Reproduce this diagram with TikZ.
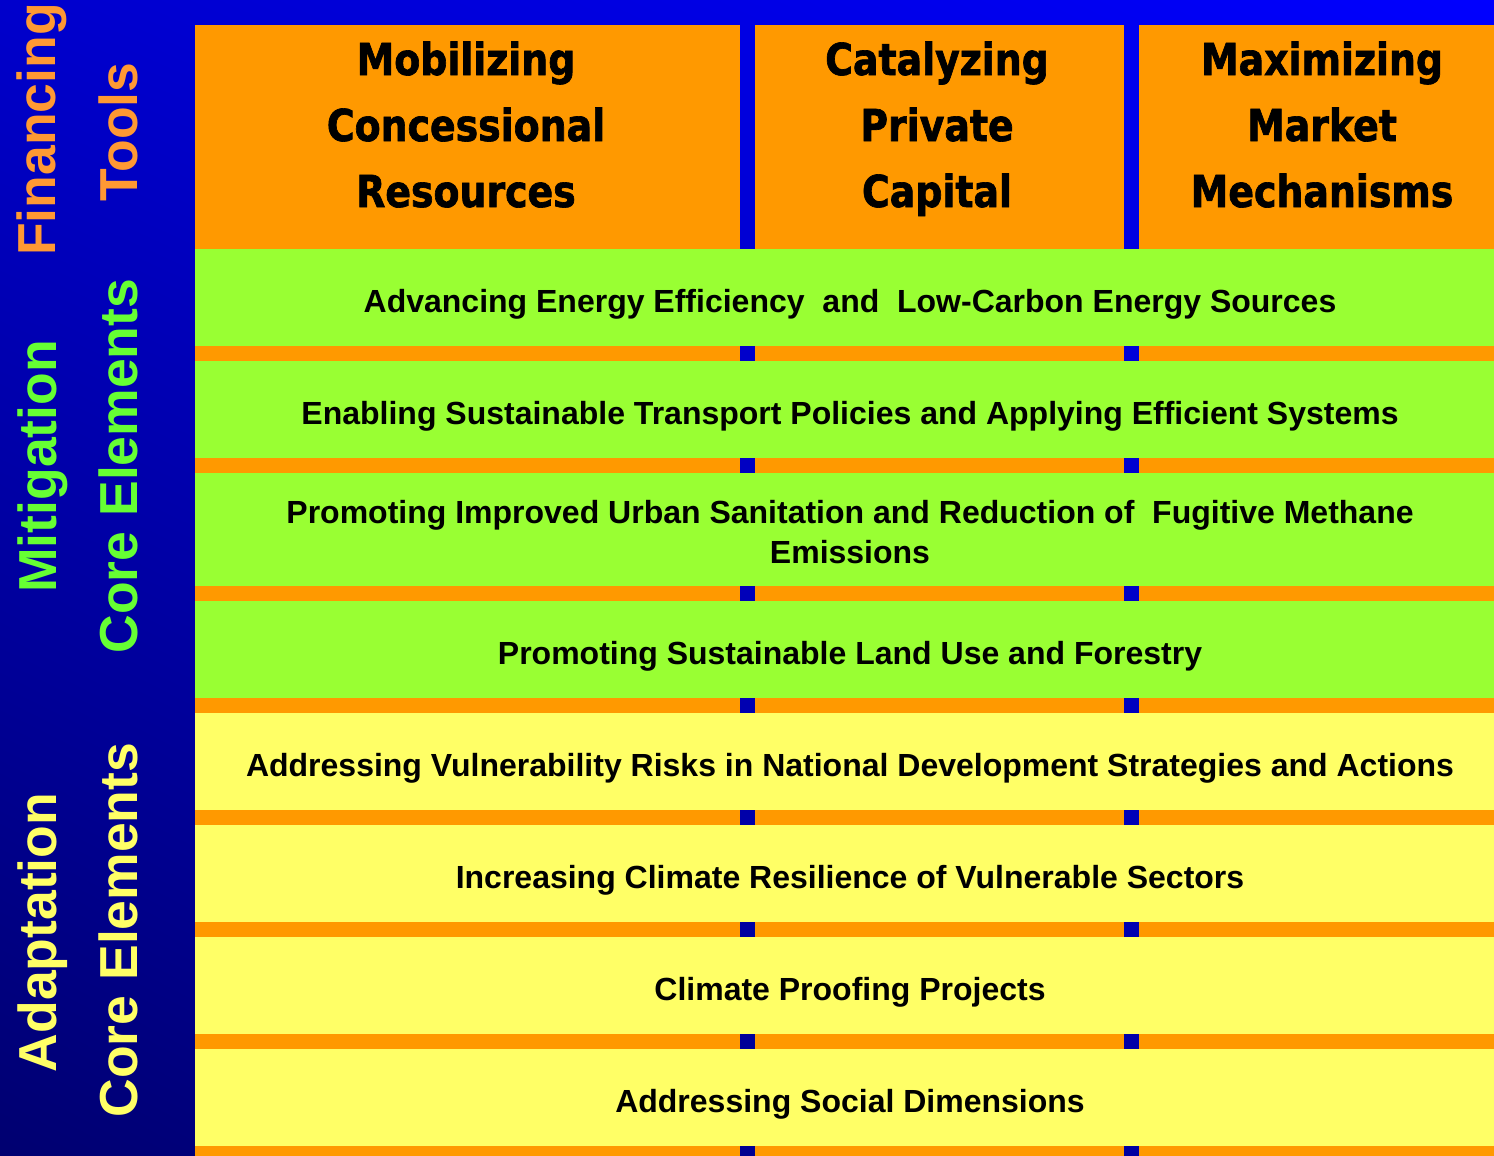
\documentclass[tikz,border=0pt]{standalone}
\usepackage{fontspec}
\usetikzlibrary{shadings}
\newfontfamily\hdrfont[FakeStretch=0.86, BoldFeatures={FakeBold=1.5}]{DejaVu Sans}
\newfontfamily\rowfont{Liberation Sans}
\definecolor{bgUL}{HTML}{0000CC}
\definecolor{bgUR}{HTML}{0000FF}
\definecolor{bgLL}{HTML}{000070}
\definecolor{bgLR}{HTML}{0000B0}
\definecolor{colOrange}{HTML}{FF9900}
\definecolor{mitGreen}{HTML}{99FF33}
\definecolor{adaYellow}{HTML}{FFFF66}
\definecolor{lblOrange}{HTML}{FF9933}
\definecolor{lblGreen}{HTML}{66FF33}
\definecolor{lblYellow}{HTML}{FFFF66}
\tikzset{
  hdrtext/.style={anchor=base, inner sep=0pt, text=black,
    font=\hdrfont\bfseries\fontsize{44}{52}\selectfont},
  rowtext/.style={anchor=base, inner sep=0pt, text=black,
    font=\rowfont\bfseries\fontsize{32}{40}\selectfont},
  sidetext/.style={anchor=base, inner sep=0pt, rotate=90,
    font=\rowfont\bfseries\fontsize{53.5}{60}\selectfont},
}
\begin{document}
\begin{tikzpicture}[x=1pt,y=-1pt]
\useasboundingbox (0,0) rectangle (1494,1156);
% blue background
\shade[upper left=bgUL, upper right=bgUR, lower left=bgLL, lower right=bgLR]
  (0,0) rectangle (1494,1156);
% three orange financing columns
\fill[colOrange] (195,25) rectangle (740,1156);
\fill[colOrange] (755,25) rectangle (1124,1156);
\fill[colOrange] (1139,25) rectangle (1494,1156);
% core element bands
\foreach \t/\b/\c in {249/346/mitGreen, 361/458/mitGreen, 473/586/mitGreen,
    601/698/mitGreen, 713/810/adaYellow, 825/922/adaYellow,
    937/1034/adaYellow, 1049/1146/adaYellow}
  \fill[\c] (195,\t) rectangle (1494,\b);
% column headings
\node[hdrtext] (h1a) at (466,75) {Mobilizing};
\node[hdrtext] (h1b) at (466,141) {Concessional};
\node[hdrtext] (h1c) at (466,207) {Resources};
\node[hdrtext] (h2a) at (937,75) {Catalyzing};
\node[hdrtext] (h2b) at (937,141) {Private};
\node[hdrtext] (h2c) at (937,207) {Capital};
\node[hdrtext] (h3a) at (1322,75) {Maximizing};
\node[hdrtext] (h3b) at (1322,141) {Market};
\node[hdrtext] (h3c) at (1322,207) {Mechanisms};
% band texts
\node[rowtext] (m1) at (850,312) {Advancing Energy Efficiency~ and~ Low-Carbon Energy Sources};
\node[rowtext] (m2) at (850,424) {Enabling Sustainable Transport Policies and Applying Efficient Systems};
\node[rowtext] (m3a) at (850,523) {Promoting Improved Urban Sanitation and Reduction of~ Fugitive Methane};
\node[rowtext] (m3b) at (850,563) {Emissions};
\node[rowtext] (m4) at (850,664) {Promoting Sustainable Land Use and Forestry};
\node[rowtext] (a1) at (850,776) {Addressing Vulnerability Risks in National Development Strategies and Actions};
\node[rowtext] (a2) at (850,888) {Increasing Climate Resilience of Vulnerable Sectors};
\node[rowtext] (a3) at (850,1000) {Climate Proofing Projects};
\node[rowtext] (a4) at (850,1112) {Addressing Social Dimensions};
% side labels
\node[sidetext, text=lblOrange] (fin1) at (55,129.5) {Financing};
\node[sidetext, text=lblOrange] (fin2) at (137,132) {Tools};
\node[sidetext, text=lblGreen] (mit1) at (56,466.5) {Mitigation};
\node[sidetext, text=lblGreen] (mit2) at (137,466) {Core Elements};
\node[sidetext, text=lblYellow] (ada1) at (56,932.5) {Adaptation};
\node[sidetext, text=lblYellow] (ada2) at (137,930) {Core Elements};
\end{tikzpicture}
\end{document}
